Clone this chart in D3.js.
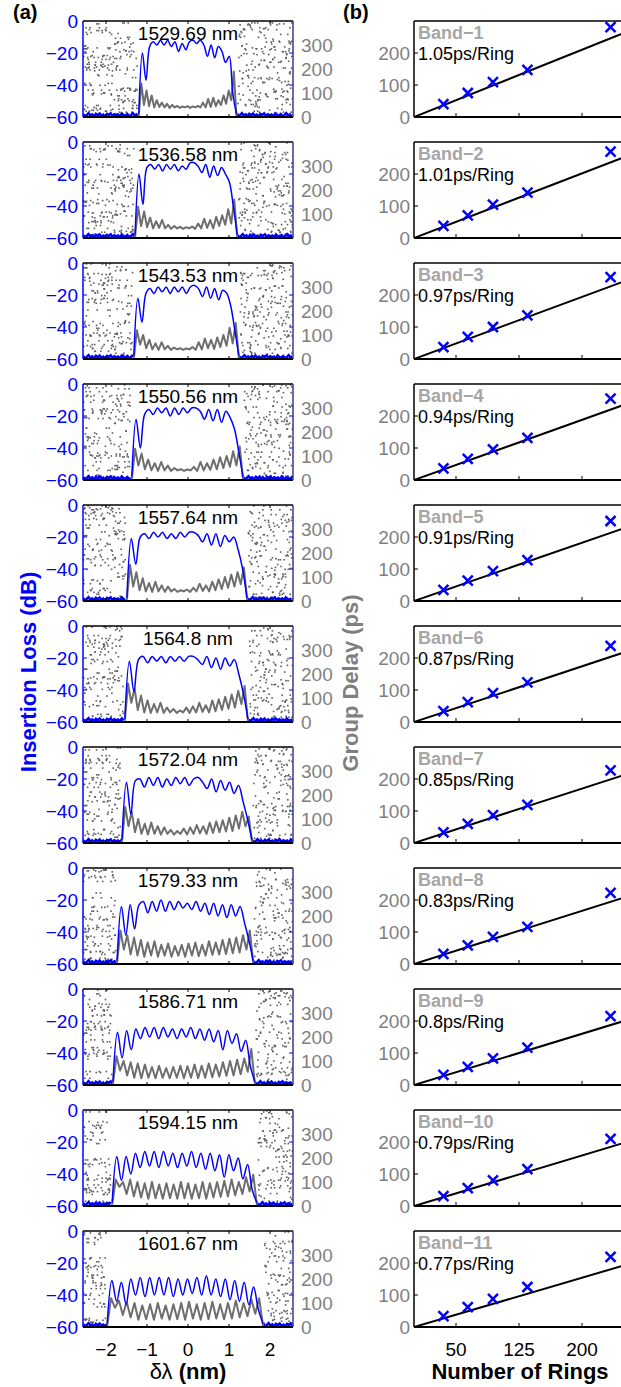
<!DOCTYPE html>
<html>
<head>
<meta charset="utf-8">
<script src="https://cdn.jsdelivr.net/npm/d3@7"></script>
<style>
  body { margin: 0; background: #fff; }
  svg { display: block; font-family: 'Liberation Sans', Arial, sans-serif; }
</style>
</head>
<body>
<div class="chart"></div>
<script>
// (a) 每个通道的中心波长
const centers = ['1529.69 nm', '1536.58 nm', '1543.53 nm', '1550.56 nm', '1557.64 nm', '1564.8 nm',
  '1572.04 nm', '1579.33 nm', '1586.71 nm', '1594.15 nm', '1601.67 nm']
// 通带边缘 (nm)
const bandEdges = [[-1.2, 1.18], [-1.29, 1.2], [-1.32, 1.24], [-1.37, 1.34], [-1.49, 1.44], [-1.54, 1.46],
  [-1.61, 1.56], [-1.73, 1.59], [-1.83, 1.63], [-1.85, 1.68], [-1.97, 1.83]]
// 插入损耗 (dB)，在通带内等间距取点
const ilData = [
  [-58, -20, -37, -16, -13, -15, -12, -15, -12, -16, -13, -19, -14, -18, -13, -12, -14, -12, -15, -22, -15, -23, -16, -19, -26, -22, -45, -58],
  [-58, -20, -39, -16, -14, -17, -14, -18, -14, -17, -14, -18, -15, -17, -13, -13, -15, -19, -14, -22, -15, -21, -16, -20, -25, -40, -58],
  [-58, -22, -37, -19, -16, -19, -15, -18, -15, -19, -15, -18, -15, -19, -15, -14, -16, -21, -15, -22, -16, -23, -17, -19, -27, -42, -58],
  [-58, -22, -40, -19, -16, -19, -15, -18, -15, -20, -15, -19, -15, -18, -15, -15, -17, -22, -16, -23, -16, -24, -17, -21, -28, -42, -58],
  [-58, -21, -37, -20, -18, -21, -17, -20, -17, -21, -18, -21, -17, -20, -17, -17, -19, -23, -18, -25, -18, -26, -19, -23, -20, -28, -40, -58],
  [-58, -22, -41, -21, -19, -23, -19, -22, -19, -23, -19, -22, -19, -22, -19, -19, -21, -24, -19, -26, -20, -27, -20, -25, -21, -30, -42, -58],
  [-58, -22, -42, -21, -20, -25, -19, -24, -19, -25, -20, -24, -19, -23, -19, -24, -20, -19, -22, -26, -20, -28, -21, -27, -22, -29, -24, -34, -45, -58],
  [-58, -24, -42, -23, -38, -23, -21, -28, -21, -27, -20, -27, -21, -26, -21, -25, -22, -26, -21, -27, -22, -29, -22, -30, -23, -31, -23, -30, -24, -34, -45, -58],
  [-58, -27, -43, -26, -38, -25, -31, -24, -30, -24, -31, -24, -30, -25, -31, -25, -30, -24, -31, -25, -32, -25, -33, -26, -38, -26, -34, -28, -39, -32, -48, -58],
  [-58, -29, -44, -29, -40, -27, -36, -26, -35, -26, -36, -26, -35, -27, -36, -27, -35, -26, -36, -27, -37, -27, -38, -28, -42, -28, -38, -30, -43, -34, -50, -58],
  [-58, -31, -44, -32, -46, -30, -40, -29, -41, -29, -40, -29, -40, -29, -41, -30, -40, -30, -39, -29, -40, -28, -40, -30, -41, -30, -43, -31, -44, -32, -46, -35, -49, -58]
]
// 群时延 (ps)，在通带内等间距取点
const gdData = [
  [5, 140, 50, 110, 45, 90, 40, 70, 42, 60, 40, 55, 38, 50, 40, 46, 38, 44, 40, 45, 38, 44, 40, 46, 40, 60, 40, 75, 42, 80, 45, 70, 50, 90, 55, 110, 70, 190, 5],
  [5, 130, 50, 110, 45, 85, 40, 70, 42, 75, 40, 55, 38, 50, 40, 46, 38, 45, 40, 48, 38, 60, 40, 80, 42, 75, 40, 88, 50, 95, 55, 120, 60, 160, 5],
  [5, 120, 60, 100, 45, 80, 40, 65, 38, 70, 40, 55, 38, 48, 40, 45, 38, 44, 40, 50, 38, 70, 40, 85, 45, 80, 42, 90, 50, 100, 55, 130, 65, 150, 5],
  [5, 130, 60, 110, 45, 85, 40, 70, 38, 75, 40, 60, 38, 50, 40, 45, 38, 44, 40, 55, 38, 75, 40, 70, 42, 85, 45, 95, 50, 100, 55, 120, 60, 140, 5],
  [5, 150, 60, 120, 45, 95, 40, 75, 38, 80, 40, 65, 38, 60, 40, 50, 38, 45, 40, 48, 38, 55, 40, 72, 42, 65, 40, 80, 45, 90, 50, 100, 55, 110, 60, 120, 70, 140, 5],
  [5, 160, 80, 140, 50, 110, 40, 90, 38, 75, 40, 80, 38, 60, 40, 55, 38, 48, 40, 60, 38, 65, 40, 80, 42, 70, 40, 90, 45, 95, 50, 105, 55, 115, 60, 130, 75, 150, 5],
  [5, 150, 70, 130, 45, 100, 38, 80, 35, 85, 38, 70, 35, 65, 38, 55, 35, 50, 38, 60, 35, 65, 38, 75, 40, 70, 38, 85, 42, 90, 45, 95, 48, 105, 50, 115, 60, 130, 70, 110, 5],
  [5, 140, 60, 120, 40, 110, 35, 100, 30, 90, 35, 95, 30, 80, 35, 85, 30, 75, 35, 80, 30, 85, 35, 90, 32, 80, 35, 95, 38, 90, 40, 100, 42, 105, 45, 110, 48, 120, 60, 140, 5],
  [5, 120, 60, 100, 40, 95, 30, 90, 28, 85, 30, 75, 28, 80, 30, 70, 28, 75, 30, 80, 28, 78, 30, 85, 28, 80, 30, 90, 32, 85, 35, 95, 38, 100, 40, 105, 45, 110, 55, 150, 5],
  [5, 110, 80, 100, 50, 110, 40, 100, 35, 95, 30, 100, 32, 90, 30, 95, 32, 90, 30, 100, 32, 95, 30, 90, 32, 100, 30, 95, 35, 100, 38, 105, 40, 110, 45, 100, 50, 120, 60, 130, 5],
  [5, 120, 80, 110, 50, 105, 40, 100, 30, 90, 32, 95, 30, 100, 35, 90, 30, 95, 32, 100, 30, 105, 35, 95, 30, 100, 32, 105, 35, 95, 32, 100, 35, 110, 40, 100, 45, 115, 55, 120, 5]
]
// 带外噪声点 (归一化位置)
const noiseU = [0.12, 0.55, 0.83, 0.31, 0.07, 0.68, 0.44, 0.91, 0.26, 0.73, 0.05, 0.39, 0.62, 0.18, 0.95, 0.50, 0.34, 0.79, 0.09, 0.57,
  0.22, 0.86, 0.41, 0.67, 0.14, 0.98, 0.30, 0.76, 0.03, 0.48, 0.60, 0.19, 0.88, 0.36, 0.71, 0.11, 0.53, 0.27, 0.94, 0.45,
  0.80, 0.16, 0.65, 0.02, 0.38, 0.85, 0.24, 0.58, 0.92, 0.33, 0.70, 0.08, 0.47, 0.63, 0.21, 0.97, 0.40, 0.75, 0.13, 0.52,
  0.89, 0.29, 0.66, 0.04, 0.43, 0.82, 0.17, 0.59, 0.35, 0.93, 0.25, 0.69, 0.10, 0.56, 0.78, 0.32, 0.99, 0.46, 0.15, 0.61,
  0.87, 0.23, 0.72, 0.06, 0.51, 0.37, 0.81, 0.20, 0.64, 0.96]
const noiseV = [0.71, 0.15, 0.48, 0.92, 0.33, 0.06, 0.59, 0.27, 0.84, 0.41, 0.63, 0.12, 0.97, 0.38, 0.54, 0.21, 0.79, 0.03, 0.66, 0.45,
  0.88, 0.29, 0.09, 0.74, 0.52, 0.36, 0.95, 0.18, 0.61, 0.83, 0.24, 0.69, 0.44, 0.01, 0.57, 0.90, 0.13, 0.77, 0.32, 0.65,
  0.08, 0.49, 0.86, 0.26, 0.72, 0.40, 0.99, 0.16, 0.58, 0.81, 0.35, 0.05, 0.68, 0.23, 0.93, 0.47, 0.11, 0.76, 0.30, 0.87,
  0.62, 0.19, 0.43, 0.96, 0.07, 0.55, 0.37, 0.82, 0.14, 0.70, 0.51, 0.28, 0.91, 0.04, 0.64, 0.46, 0.85, 0.17, 0.39, 0.73,
  0.25, 0.98, 0.53, 0.10, 0.60, 0.34, 0.89, 0.22, 0.78, 0.02]
// 带外底噪 (dB)
const floorDb = [-58.2, -59.5, -58.8, -57.6, -59.1, -58.4, -59.7, -58.0, -58.9, -57.9, -59.3, -58.6,
  -59.8, -58.1, -58.7, -57.7, -59.4, -58.3, -59.0, -58.5, -59.6, -57.8, -58.9, -59.2]

// (b) 群时延 vs 环数
const bandLabels = ['Band−1', 'Band−2', 'Band−3', 'Band−4', 'Band−5', 'Band−6', 'Band−7', 'Band−8', 'Band−9', 'Band−10', 'Band−11']
const slopes = [1.05, 1.01, 0.97, 0.94, 0.91, 0.87, 0.85, 0.83, 0.8, 0.79, 0.77]
const rings = [35, 64, 94, 135, 234]
const delays = [
  [40, 75, 109, 147, 281],
  [38, 71, 104, 142, 270],
  [37, 69, 100, 136, 256],
  [36, 66, 96, 132, 254],
  [35, 64, 93, 128, 250],
  [34, 62, 90, 124, 238],
  [33, 60, 87, 119, 227],
  [32, 58, 85, 116, 222],
  [32, 57, 83, 117, 215],
  [31, 56, 80, 115, 210],
  [34, 62, 88, 125, 219]
]

// 刻度
const dbTicks = [0, -20, -40, -60]
const psTicks = [0, 100, 200, 300]
const nmTicks = [-2, -1, 0, 1, 2]
const gdTicks = [0, 100, 200]
const ringTicks = [50, 125, 200]

let theme = {
  width: 621,
  height: 1387,
  top: 21,
  step: 121,
  ph: 96,
  lx0: 83,
  lx1: 293,
  rx0: 414,
  rx1: 624,
  blue: '#0000ff',
  gray: '#6e6e6e',
  labelGray: '#7f7f7f',
  bandGray: '#a6a6a6',
  font: 19
}

let svg = d3.select('.chart')
  .append('svg')
  .attr('width', theme.width)
  .attr('height', theme.height)

const x = d3.scaleLinear().domain([-2.56, 2.56]).range([theme.lx0, theme.lx1])
const yDb = d3.scaleLinear().domain([-60, 0]).range([theme.ph, 0])
const yPs = d3.scaleLinear().domain([0, 400]).range([theme.ph, 0])
const xr = d3.scaleLinear().domain([0, 250]).range([theme.rx0, theme.rx1])
const yr = d3.scaleLinear().domain([0, 300]).range([theme.ph, 0])

init()

function init () {
  centers.forEach((c, i) => {
    let g = svg.append('g').attr('transform', `translate(0,${theme.top + i * theme.step})`)
    drawSpectrum(g, i, i === centers.length - 1)
    drawDelay(g, i, i === centers.length - 1)
  })
  drawTitles()
}

// 带外噪声点：把归一化样本平铺到带外区域，每块打乱配对
function noisePoints (lo, hi, i) {
  let pts = []
  let n = noiseU.length
  let tw = 0.75
  for (let t = -1; t < 6; t++) {
    for (let p = 0; p < 2; p++) {
      noiseU.forEach((u, k) => {
        if (p === 1 && k % 3 !== 0) return
        let vL = noiseV[(k * k * 3 + k + t * 17 + p * 41 + i * 13) % n]
        let vR = noiseV[(k * k * 5 + 2 * k + t * 29 + p * 37 + i * 7) % n]
        let uu = p === 0 ? u : noiseU[(k * 7 + t * 3 + i) % n]
        let xl = -2.56 + (t + uu) * tw
        if (xl > -2.55 && xl < lo - 0.03) pts.push([xl, vL * 400])
        let xx = 2.56 - (t + uu) * tw
        if (xx < 2.55 && xx > hi + 0.03) pts.push([xx, vR * 400])
      })
    }
  }
  return pts
}

function floorPoints (a, b) {
  let pts = []
  let k = 0
  for (let v = a; v <= b; v += 0.045) {
    pts.push([v, floorDb[k % floorDb.length]])
    k++
  }
  return pts
}

function spread (vals, lo, hi) {
  return vals.map((v, k) => [lo + (hi - lo) * k / (vals.length - 1), v])
}

function drawSpectrum (g, i, last) {
  let [lo, hi] = bandEdges[i]
  let clipId = 'clipL' + i
  g.append('clipPath').attr('id', clipId)
    .append('rect')
    .attr('x', theme.lx0).attr('y', 0)
    .attr('width', theme.lx1 - theme.lx0).attr('height', theme.ph)
  let body = g.append('g').attr('clip-path', `url(#${clipId})`)

  // 噪声点
  body.selectAll('.noise')
    .data(noisePoints(lo, hi, i))
    .enter()
    .append('rect')
    .attr('class', 'noise')
    .attr('x', d => x(d[0]) - 0.8)
    .attr('y', d => yPs(d[1]) - 0.8)
    .attr('width', 1.6)
    .attr('height', 1.6)
    .attr('fill', '#5e5e5e')

  // 底噪
  let lineDb = d3.line().x(d => x(d[0])).y(d => yDb(d[1]))
  body.selectAll('.floor')
    .data([floorPoints(-2.56, lo), floorPoints(hi, 2.56)])
    .enter()
    .append('path')
    .attr('class', 'floor')
    .attr('d', lineDb)
    .attr('fill', 'none')
    .attr('stroke', theme.blue)
    .attr('stroke-width', 2.6)

  // 群时延
  let linePs = d3.line().x(d => x(d[0])).y(d => yPs(d[1]))
  body.append('path')
    .attr('d', linePs(spread(gdData[i], lo, hi)))
    .attr('fill', 'none')
    .attr('stroke', theme.gray)
    .attr('stroke-width', 2)
    .attr('stroke-linejoin', 'round')

  // 插入损耗
  body.append('path')
    .attr('d', lineDb.curve(d3.curveCatmullRom.alpha(0.5))(spread(ilData[i], lo, hi)))
    .attr('fill', 'none')
    .attr('stroke', theme.blue)
    .attr('stroke-width', 1.5)

  // 边框
  g.append('line').attr('x1', theme.lx0).attr('x2', theme.lx1).attr('y1', 0).attr('y2', 0)
    .attr('stroke', '#000').attr('stroke-width', 1.5)
  g.append('line').attr('x1', theme.lx0).attr('x2', theme.lx1).attr('y1', theme.ph).attr('y2', theme.ph)
    .attr('stroke', '#000').attr('stroke-width', 2)
  g.append('line').attr('x1', theme.lx0).attr('x2', theme.lx0).attr('y1', 0).attr('y2', theme.ph)
    .attr('stroke', theme.blue).attr('stroke-width', 1.5)
  g.append('line').attr('x1', theme.lx1).attr('x2', theme.lx1).attr('y1', 0).attr('y2', theme.ph)
    .attr('stroke', '#3a3a8a').attr('stroke-width', 1.5)

  // 刻度线
  dbTicks.slice(1, 3).forEach(t => {
    g.append('line').attr('x1', theme.lx0).attr('x2', theme.lx0 + 4).attr('y1', yDb(t)).attr('y2', yDb(t))
      .attr('stroke', theme.blue).attr('stroke-width', 1)
    g.append('line').attr('x1', theme.lx1).attr('x2', theme.lx1 - 4).attr('y1', yDb(t)).attr('y2', yDb(t))
      .attr('stroke', theme.blue).attr('stroke-width', 1)
  })
  nmTicks.forEach(t => {
    g.append('line').attr('x1', x(t)).attr('x2', x(t)).attr('y1', theme.ph).attr('y2', theme.ph - 3)
      .attr('stroke', '#000').attr('stroke-width', 1)
    g.append('line').attr('x1', x(t)).attr('x2', x(t)).attr('y1', 0).attr('y2', 3)
      .attr('stroke', '#000').attr('stroke-width', 1)
  })

  // 左轴标签 (dB)
  g.selectAll('.db-label')
    .data(dbTicks)
    .enter()
    .append('text')
    .attr('class', 'db-label')
    .attr('x', theme.lx0 - 5)
    .attr('y', d => yDb(d))
    .attr('dy', '0.36em')
    .attr('text-anchor', 'end')
    .attr('font-size', theme.font)
    .attr('fill', theme.blue)
    .text(d => d3.format('d')(d))

  // 右轴标签 (ps)
  g.selectAll('.ps-label')
    .data(psTicks)
    .enter()
    .append('text')
    .attr('class', 'ps-label')
    .attr('x', theme.lx1 + 8)
    .attr('y', d => yPs(d))
    .attr('dy', '0.36em')
    .attr('font-size', theme.font)
    .attr('fill', theme.labelGray)
    .text(d => d)

  // 中心波长
  g.append('text')
    .attr('x', x(0))
    .attr('y', 19)
    .attr('text-anchor', 'middle')
    .attr('font-size', theme.font)
    .attr('fill', '#000')
    .text(centers[i])

  if (last) {
    g.selectAll('.nm-label')
      .data(nmTicks)
      .enter()
      .append('text')
      .attr('class', 'nm-label')
      .attr('x', d => x(d))
      .attr('y', theme.ph + 29)
      .attr('text-anchor', 'middle')
      .attr('font-size', theme.font)
      .attr('fill', '#000')
      .text(d => d3.format('d')(d))
  }
}

function drawDelay (g, i, last) {
  let clipId = 'clipR' + i
  g.append('clipPath').attr('id', clipId)
    .append('rect')
    .attr('x', theme.rx0).attr('y', -8)
    .attr('width', theme.rx1 - theme.rx0 + 10).attr('height', theme.ph + 8)
  let body = g.append('g').attr('clip-path', `url(#${clipId})`)

  // 拟合直线
  body.append('path')
    .attr('d', d3.line().x(d => xr(d)).y(d => yr(d * slopes[i]))([0, 250]))
    .attr('stroke', '#000')
    .attr('stroke-width', 2)
    .attr('fill', 'none')

  // 测量点
  body.selectAll('.mark')
    .data(rings.map((r, k) => [r, delays[i][k]]))
    .enter()
    .append('path')
    .attr('class', 'mark')
    .attr('transform', d => `translate(${xr(d[0])},${yr(d[1])})`)
    .attr('d', 'M-5,-5L5,5M-5,5L5,-5')
    .attr('stroke', theme.blue)
    .attr('stroke-width', 2.5)

  // 边框
  g.append('line').attr('x1', theme.rx0).attr('x2', theme.rx1).attr('y1', 0).attr('y2', 0)
    .attr('stroke', '#000').attr('stroke-width', 1.5)
  g.append('line').attr('x1', theme.rx0).attr('x2', theme.rx1).attr('y1', theme.ph).attr('y2', theme.ph)
    .attr('stroke', '#000').attr('stroke-width', 2)
  g.append('line').attr('x1', theme.rx0).attr('x2', theme.rx0).attr('y1', 0).attr('y2', theme.ph)
    .attr('stroke', '#000').attr('stroke-width', 1.5)

  gdTicks.slice(1).forEach(t => {
    g.append('line').attr('x1', theme.rx0).attr('x2', theme.rx0 + 4).attr('y1', yr(t)).attr('y2', yr(t))
      .attr('stroke', '#000').attr('stroke-width', 1)
  })
  ringTicks.forEach(t => {
    g.append('line').attr('x1', xr(t)).attr('x2', xr(t)).attr('y1', theme.ph).attr('y2', theme.ph - 4)
      .attr('stroke', '#000').attr('stroke-width', 1)
  })

  g.selectAll('.gd-label')
    .data(gdTicks)
    .enter()
    .append('text')
    .attr('class', 'gd-label')
    .attr('x', theme.rx0 - 4)
    .attr('y', d => yr(d))
    .attr('dy', '0.36em')
    .attr('text-anchor', 'end')
    .attr('font-size', theme.font)
    .attr('fill', theme.labelGray)
    .text(d => d)

  g.append('text')
    .attr('x', theme.rx0 + 4)
    .attr('y', 18)
    .attr('font-size', 18)
    .attr('font-weight', 'bold')
    .attr('fill', theme.bandGray)
    .text(bandLabels[i])

  g.append('text')
    .attr('x', theme.rx0 + 4)
    .attr('y', 39)
    .attr('font-size', 18)
    .attr('fill', '#000')
    .text(slopes[i] + 'ps/Ring')

  if (last) {
    g.selectAll('.ring-label')
      .data(ringTicks)
      .enter()
      .append('text')
      .attr('class', 'ring-label')
      .attr('x', d => xr(d))
      .attr('y', theme.ph + 29)
      .attr('text-anchor', 'middle')
      .attr('font-size', theme.font)
      .attr('fill', '#000')
      .text(d => d)
  }
}

function drawTitles () {
  svg.append('text').attr('x', 13).attr('y', 19)
    .attr('font-size', 20).attr('font-weight', 'bold').text('(a)')
  svg.append('text').attr('x', 343).attr('y', 19)
    .attr('font-size', 20).attr('font-weight', 'bold').text('(b)')

  svg.append('text')
    .attr('transform', 'translate(36,672) rotate(-90)')
    .attr('text-anchor', 'middle')
    .attr('font-size', 22)
    .attr('font-weight', 'bold')
    .attr('fill', theme.blue)
    .text('Insertion Loss (dB)')

  svg.append('text')
    .attr('transform', 'translate(358,683) rotate(-90)')
    .attr('text-anchor', 'middle')
    .attr('font-size', 22)
    .attr('font-weight', 'bold')
    .attr('fill', theme.labelGray)
    .text('Group Delay (ps)')

  let xl = svg.append('text')
    .attr('x', x(0))
    .attr('y', 1379)
    .attr('text-anchor', 'middle')
    .attr('font-size', 22)
  xl.append('tspan').text('δλ ')
  xl.append('tspan').attr('font-weight', 'bold').text('(nm)')

  svg.append('text')
    .attr('x', 520)
    .attr('y', 1379)
    .attr('text-anchor', 'middle')
    .attr('font-size', 22)
    .attr('font-weight', 'bold')
    .text('Number of Rings')
}
</script>
</body>
</html>
